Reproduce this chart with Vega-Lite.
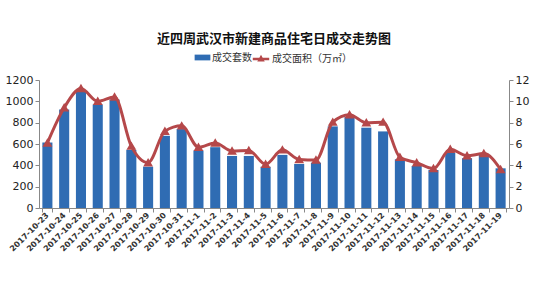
{
  "$schema": "https://vega.github.io/schema/vega-lite/v6.json",
  "width": 470,
  "height": 128,
  "autosize": {"type": "none"},
  "padding": {"left": 39, "top": 80, "right": 41, "bottom": 75},
  "title": {
    "text": "近四周武汉市新建商品住宅日成交走势图",
    "font": "Noto Sans CJK SC",
    "fontSize": 13,
    "fontWeight": "bold",
    "color": "#111111",
    "anchor": "middle",
    "offset": 6
  },
  "config": {
    "view": {"stroke": null},
    "font": "Noto Sans CJK SC",
    "legend": {
      "layout": {"top": {"anchor": "middle", "direction": "horizontal", "margin": 2}}
    }
  },
  "data": {
    "values": [
      {"date": "2017-10-23", "count": 614, "area": 6.1},
      {"date": "2017-10-24", "count": 923, "area": 9.4},
      {"date": "2017-10-25", "count": 1096, "area": 11.2},
      {"date": "2017-10-26", "count": 970, "area": 10.0},
      {"date": "2017-10-27", "count": 1018, "area": 10.4},
      {"date": "2017-10-28", "count": 545, "area": 5.8},
      {"date": "2017-10-29", "count": 387, "area": 4.25},
      {"date": "2017-10-30", "count": 677, "area": 7.2},
      {"date": "2017-10-31", "count": 740, "area": 7.7},
      {"date": "2017-11-1", "count": 539, "area": 5.7},
      {"date": "2017-11-2", "count": 570, "area": 6.1},
      {"date": "2017-11-3", "count": 488, "area": 5.35},
      {"date": "2017-11-4", "count": 488, "area": 5.4},
      {"date": "2017-11-5", "count": 387, "area": 4.1},
      {"date": "2017-11-6", "count": 498, "area": 5.45},
      {"date": "2017-11-7", "count": 413, "area": 4.55},
      {"date": "2017-11-8", "count": 425, "area": 4.5},
      {"date": "2017-11-9", "count": 765, "area": 8.05},
      {"date": "2017-11-10", "count": 854, "area": 8.75},
      {"date": "2017-11-11", "count": 753, "area": 8.0},
      {"date": "2017-11-12", "count": 718, "area": 8.05},
      {"date": "2017-11-13", "count": 457, "area": 4.75},
      {"date": "2017-11-14", "count": 394, "area": 4.25},
      {"date": "2017-11-15", "count": 356, "area": 3.7},
      {"date": "2017-11-16", "count": 520, "area": 5.5},
      {"date": "2017-11-17", "count": 467, "area": 4.9},
      {"date": "2017-11-18", "count": 498, "area": 5.1},
      {"date": "2017-11-19", "count": 372, "area": 3.6}
    ]
  },
  "encoding": {
    "x": {
      "field": "date",
      "type": "ordinal",
      "sort": null,
      "scale": {"paddingInner": 0.4, "paddingOuter": 0.2},
      "axis": {
        "title": null,
        "labelAngle": -45,
        "labelAlign": "right",
        "labelBaseline": "middle",
        "labelFontSize": 8,
        "labelFontWeight": "bold",
        "labelColor": "#333333",
        "labelFont": "DejaVu Sans",
        "tickBand": "extent",
        "domainColor": "#888888",
        "tickColor": "#888888",
        "tickSize": 4,
        "labelPadding": 2
      }
    }
  },
  "layer": [
    {
      "mark": {"type": "bar", "color": "#2f6cb3"},
      "encoding": {
        "y": {
          "field": "count",
          "type": "quantitative",
          "scale": {"domain": [0, 1200]},
          "axis": {
            "title": null,
            "format": "d",
            "values": [0, 200, 400, 600, 800, 1000, 1200],
            "grid": false,
            "labelFontSize": 11,
            "labelFont": "DejaVu Sans",
            "labelColor": "#222222",
            "domainColor": "#888888",
            "tickColor": "#888888",
            "tickSize": 4
          }
        },
        "fill": {
          "datum": "成交套数",
          "type": "nominal",
          "scale": {"range": ["#2f6cb3"]},
          "legend": {
            "title": null,
            "orient": "top",
            "symbolType": "M-1.5,-0.55H1.5V0.55H-1.5Z",
            "symbolSize": 110,
            "symbolStrokeWidth": 0,
            "labelFontSize": 10,
            "labelColor": "#333333",
            "offset": 14
          }
        }
      }
    },
    {
      "mark": {
        "type": "line",
        "color": "#b5484a",
        "strokeWidth": 3,
        "interpolate": "monotone",
        "point": {"shape": "triangle-up", "size": 40, "filled": true, "color": "#b5484a"}
      },
      "encoding": {
        "y": {
          "field": "area",
          "type": "quantitative",
          "scale": {"domain": [0, 12]},
          "axis": {
            "title": null,
            "orient": "right",
            "values": [0, 2, 4, 6, 8, 10, 12],
            "grid": false,
            "labelFontSize": 11,
            "labelFont": "DejaVu Sans",
            "labelColor": "#222222",
            "domainColor": "#888888",
            "tickColor": "#888888",
            "tickSize": 4
          }
        },
        "stroke": {
          "datum": "成交面积（万㎡）",
          "type": "nominal",
          "scale": {"range": ["#b5484a"]},
          "legend": {
            "title": null,
            "orient": "top",
            "symbolType": "M-1.5,0H1.5M-0.3,0.25L0,-0.3L0.3,0.25Z",
            "symbolStrokeWidth": 2.5,
            "symbolFillColor": "#b5484a",
            "symbolSize": 120,
            "labelFontSize": 10,
            "labelColor": "#333333",
            "offset": 14
          }
        }
      }
    }
  ],
  "resolve": {"scale": {"y": "independent"}}
}
